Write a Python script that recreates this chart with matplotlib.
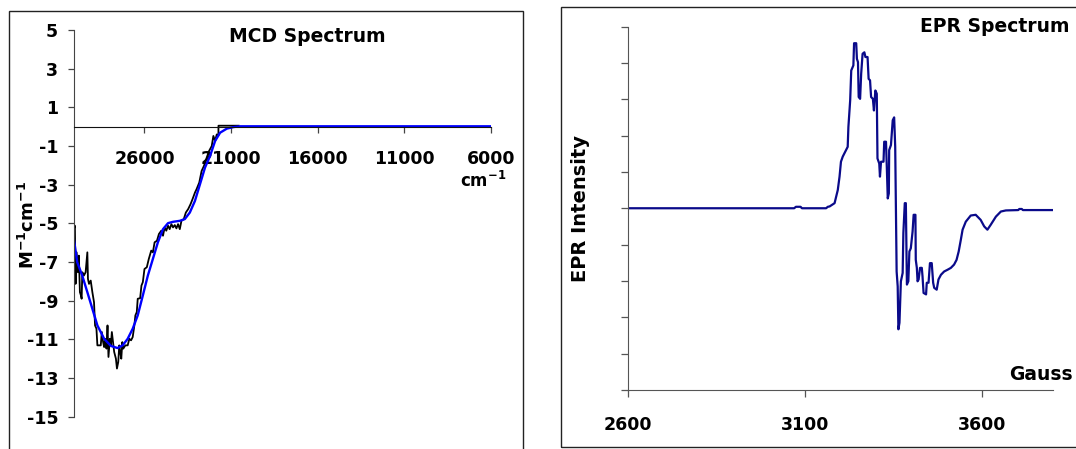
import matplotlib
matplotlib.use("Agg")
import matplotlib.pyplot as plt
from matplotlib.patches import Rectangle

# MCD spectrum, experimental trace (cm-1, M-1cm-1)
mcd_wn_exp = [30080, 30020, 29980, 29920, 29845, 29790, 29730, 29670, 29630, 29590,
              29500, 29400, 29300, 29265, 29205, 29105, 29010, 28915, 28855, 28775,
              28720, 28620, 28525, 28465, 28390, 28330, 28270, 28195, 28135, 28080,
              28000, 27940, 27885, 27750, 27650, 27590, 27515, 27455, 27400, 27340,
              27280, 27225, 27105, 26970, 26875, 26775, 26680, 26585, 26525, 26445,
              26390, 26250, 26175, 26095, 26000, 25865, 25750, 25610, 25515, 25415,
              25280, 25165, 25030, 24930, 24835, 24740, 24640, 24545, 24445, 24350,
              24250, 24155, 24060, 23960, 23865, 23730, 23610, 23475, 23340, 23225,
              23085, 22990, 22835, 22700, 22565, 22405, 22270, 22115, 22020, 21920,
              21825, 21730, 21725, 20560]
mcd_exp = [-5.30, -5.12, -8.13, -6.50, -7.53, -6.67, -8.56, -8.73, -8.90, -7.53,
           -7.70, -7.53, -6.50, -7.87, -8.13, -7.96, -8.56, -9.08, -10.28, -10.45,
           -11.31, -11.31, -11.31, -10.62, -11.14, -11.40, -10.97, -11.48, -10.28, -11.91,
           -10.97, -11.31, -10.62, -11.65, -12.00, -12.51, -12.17, -11.31, -11.65, -12.00,
           -11.14, -11.48, -11.31, -11.31, -10.97, -11.05, -10.88, -10.28, -9.76, -9.59,
           -8.90, -8.87, -8.22, -8.04, -7.36, -7.27, -6.84, -6.41, -6.50, -5.98,
           -5.90, -5.55, -5.38, -5.64, -5.21, -5.38, -5.12, -5.30, -5.04, -5.21,
           -5.09, -5.26, -5.04, -5.30, -4.87, -4.78, -4.44, -4.26, -4.01, -3.75,
           -3.41, -3.23, -2.89, -2.29, -2.03, -1.60, -1.26, -1.00, -0.48, -0.74,
           -0.40, -0.45, 0.05, 0.05]

# MCD spectrum, fitted curve
mcd_wn_fit = [30080, 29885, 29595, 29300, 29010, 28720, 28330, 27940, 27555, 27260,
              26970, 26680, 26390, 26095, 25805, 25515, 25225, 24930, 24640, 24350,
              23960, 23670, 23380, 23085, 22795, 22505, 22215, 21920, 21630, 21240,
              20855, 20465, 6000]
mcd_fit = [-5.81, -7.01, -7.70, -8.56, -9.42, -10.28, -10.97, -11.34, -11.45, -11.31,
           -10.97, -10.45, -9.76, -8.73, -7.70, -6.84, -5.98, -5.30, -4.99, -4.92,
           -4.87, -4.78, -4.44, -3.84, -2.98, -2.12, -1.52, -0.74, -0.31, -0.10,
           -0.02, 0.02, 0.02]

# EPR spectrum (Gauss, arbitrary intensity)
epr_field = [2600, 3070, 3075, 3088, 3092, 3160, 3165, 3170, 3184, 3193,
             3198, 3202, 3207, 3221, 3223, 3228, 3231, 3237, 3239, 3245,
             3247, 3250, 3252, 3256, 3259, 3263, 3268, 3271, 3277, 3280,
             3284, 3287, 3292, 3295, 3299, 3303, 3305, 3310, 3312, 3315,
             3322, 3324, 3329, 3331, 3334, 3337, 3338, 3343, 3348, 3352,
             3355, 3359, 3362, 3364, 3367, 3371, 3376, 3378, 3382, 3385,
             3388, 3392, 3395, 3399, 3404, 3407, 3412, 3413, 3416, 3418,
             3421, 3425, 3430, 3432, 3435, 3442, 3444, 3449, 3453, 3458,
             3462, 3465, 3472, 3477, 3484, 3493, 3503, 3512, 3521, 3528,
             3534, 3540, 3545, 3554, 3568, 3582, 3596, 3606, 3615, 3624,
             3639, 3653, 3667, 3702, 3705, 3712, 3715, 3800]
epr_intensity = [0.0, 0.0, 0.04, 0.04, 0.0, 0.0, 0.04, 0.05, 0.14, 0.50,
                 0.87, 1.28, 1.42, 1.69, 2.24, 2.97, 3.79, 3.93, 4.54, 4.54,
                 4.11, 4.02, 3.06, 3.01, 3.70, 4.25, 4.29, 4.16, 4.16, 3.56,
                 3.52, 3.06, 3.01, 2.69, 3.24, 3.15, 1.37, 1.23, 0.87, 1.28,
                 1.28, 1.83, 1.83, 1.23, 0.27, 0.41, 1.60, 1.74, 2.42, 2.50,
                 1.69, -1.74, -2.15, -3.33, -3.15, -2.01, -1.78, -0.68, 0.14, 0.14,
                 -2.10, -2.01, -1.19, -1.10, -0.64, -0.18, -0.18, -1.42, -1.64, -2.01,
                 -1.96, -1.64, -1.64, -1.87, -2.33, -2.37, -2.05, -2.05, -1.51, -1.51,
                 -2.05, -2.19, -2.24, -1.96, -1.83, -1.74, -1.69, -1.64, -1.55, -1.42,
                 -1.19, -0.87, -0.59, -0.37, -0.20, -0.18, -0.32, -0.50, -0.59, -0.46,
                 -0.23, -0.09, -0.06, -0.05, -0.02, -0.02, -0.05, -0.05]

mcd_xticks = [26000, 21000, 16000, 11000, 6000]
mcd_yticks = [5, 3, 1, -1, -3, -5, -7, -9, -11, -13, -15]
epr_xticks = [2600, 3100, 3600]

W, H = 1076, 449
plt.rcParams['font.family'] = 'DejaVu Sans'
plt.rcParams['font.weight'] = 'bold'

fig = plt.figure(figsize=(W / 100, H / 100), dpi=100)


def box(x0, y0, x1, y1):
    # pixel box (top-left origin) -> figure fraction rect
    return [x0 / W, 1 - y1 / H, (x1 - x0) / W, (y1 - y0) / H]


# outer chart frames
for x0, y0, x1, y1 in [(8.5, 11.5, 522.5, 470), (560.5, 6.5, 1100, 447)]:
    fig.patches.append(Rectangle((x0 / W, 1 - y1 / H), (x1 - x0) / W, (y1 - y0) / H,
                                 transform=fig.transFigure, fill=False,
                                 edgecolor='#222222', linewidth=1.0))

# ---- MCD panel ----
ax1 = fig.add_axes(box(73.5, 30, 490.7, 416.7))
ax1.plot(mcd_wn_exp, mcd_exp, color='black', linewidth=1.3)
ax1.plot(mcd_wn_fit, mcd_fit, color='#0000ff', linewidth=1.7)
ax1.set_xlim(30100, 6000)
ax1.set_ylim(-15, 5)
ax1.set_xticks(mcd_xticks)
ax1.set_yticks(mcd_yticks)
ax1.set_xticklabels([str(v) for v in mcd_xticks])
ax1.set_yticklabels([str(v) for v in mcd_yticks])
ax1.spines['top'].set_visible(False)
ax1.spines['right'].set_visible(False)
ax1.spines['bottom'].set_position(('data', 0))
ax1.spines['bottom'].set_color('#111111')
ax1.spines['left'].set_color('#444444')
ax1.tick_params(axis='both', direction='out', length=4, width=0.9,
                labelsize=12.5, colors='#444444', labelcolor='black')
ax1.tick_params(axis='x', pad=13)
ax1.tick_params(axis='y', pad=7)
ax1.patch.set_alpha(0)
fig.text(307 / W, 1 - 36 / H, 'MCD Spectrum', ha='center', va='center',
         fontsize=13.5, fontweight='bold')
fig.text(483 / W, 1 - 181 / H, 'cm$^{\\mathbf{-1}}$', ha='center', va='center',
         fontsize=12, fontweight='bold')
fig.text(27.5 / W, 1 - 225 / H, 'M$^{\\mathbf{-1}}$cm$^{\\mathbf{-1}}$', ha='center',
         va='center', rotation=90, fontsize=13, fontweight='bold')

# ---- EPR panel ----
ax2 = fig.add_axes(box(627.5, 26.5, 1053, 390))
ax2.plot(epr_field, epr_intensity, color='#0a0a8a', linewidth=1.6)
ax2.set_xlim(2600, 3800)
ax2.set_ylim(-5, 5)
ax2.set_xticks(epr_xticks)
ax2.set_xticklabels([str(v) for v in epr_xticks])
ax2.set_yticks(range(-5, 6))
ax2.set_yticklabels([])
ax2.spines['top'].set_visible(False)
ax2.spines['right'].set_visible(False)
ax2.spines['bottom'].set_color('#555555')
ax2.spines['left'].set_color('#555555')
ax2.tick_params(axis='both', direction='out', length=5, width=0.9,
                labelsize=12.5, colors='#555555', labelcolor='black')
ax2.tick_params(axis='x', pad=14)
ax2.patch.set_alpha(0)
fig.text(995 / W, 1 - 26 / H, 'EPR Spectrum', ha='center', va='center',
         fontsize=13.5, fontweight='bold')
fig.text(1041 / W, 1 - 374 / H, 'Gauss', ha='center', va='center',
         fontsize=13.5, fontweight='bold')
fig.text(580.5 / W, 1 - 209 / H, 'EPR Intensity', ha='center', va='center',
         rotation=90, fontsize=14, fontweight='bold')

fig.savefig('out.png', dpi=100)
